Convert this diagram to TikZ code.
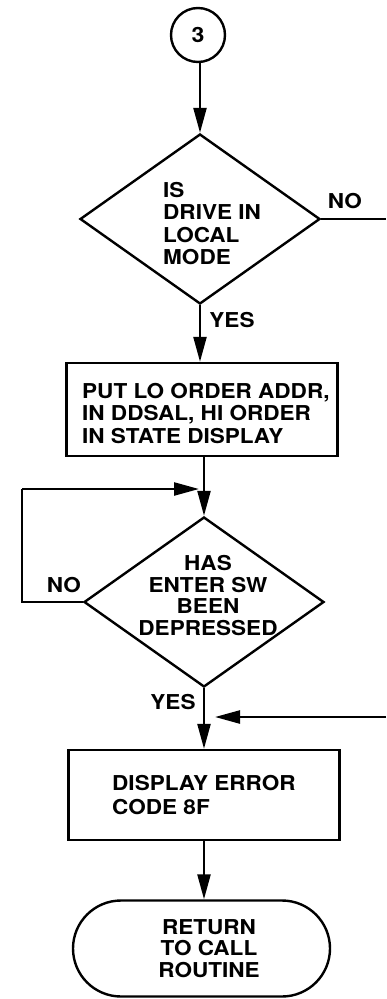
\documentclass[tikz,border=0pt]{standalone}
\usepackage{fontspec}
\setmainfont[FakeStretch=1.1]{TeX Gyre Heros}
\usetikzlibrary{shapes.geometric,arrows.meta}
\tikzset{
  flow/.style={line width=2.4pt, line join=miter},
  arr/.style={flow, -{Triangle[length=25pt,width=13pt]}},
  dia/.style={draw, flow, diamond, minimum width=240pt, minimum height=170pt, inner sep=0pt},
  boxn/.style={draw, flow, rectangle, inner sep=0pt},
  txt/.style={inner sep=0pt, align=left, font=\fontsize{20.5}{22.3}\selectfont\bfseries},
  ctxt/.style={inner sep=0pt, align=center, font=\fontsize{20.5}{21.7}\selectfont\bfseries},
  lbl/.style={inner sep=0pt, font=\fontsize{20.5}{22}\selectfont\bfseries}
}
\begin{document}
\begin{tikzpicture}[x=1pt,y=-1pt]
\useasboundingbox (0,0) rectangle (386,999);
% connector circle
\node[draw, flow, circle, minimum size=54pt, inner sep=0pt, font=\fontsize{21}{22}\selectfont\bfseries] (c3) at (198,35) {3};
% decision 1
\node[dia] (d1) at (200,219) {};
\node[txt, anchor=west] (d1t) at (163,223.5) {IS\\DRIVE IN\\LOCAL\\MODE};
\coordinate (noend) at (386,219);
\node[lbl] (no1) at (345,201) {NO};
\node[lbl] (yes1) at (232,320) {YES};
% box 1
\node[boxn, minimum width=271pt, minimum height=93pt] (b1) at (202,409.5) {};
\node[txt, anchor=west] (b1t) at (82,413.5) {PUT LO ORDER ADDR,\\IN DDSAL, HI ORDER\\IN STATE DISPLAY};
% decision 2
\node[dia] (d2) at (204,602) {};
\node[ctxt] (d2t) at (208,595.5) {HAS\\ENTER SW\\BEEN\\DEPRESSED};
\node[lbl] (no2) at (64,585) {NO};
\node[lbl] (yes2) at (173,702) {YES};
\coordinate (loopc) at (22,602);
\coordinate (loopt) at (22,489);
\coordinate (loopin) at (199,489);
\coordinate (rin) at (386,717);
\coordinate (rtip) at (215,717);
% box 2
\node[boxn, minimum width=271pt, minimum height=90pt] (b2) at (204,795) {};
\node[txt, anchor=west, font=\fontsize{20.5}{23.5}\selectfont\bfseries] (b2t) at (112,795) {DISPLAY ERROR\\CODE 8F};
% terminal
\node[draw, flow, rectangle, rounded corners=48pt, minimum width=257pt, minimum height=96pt, inner sep=0pt] (term) at (201.5,948.5) {};
\node[ctxt] (termt) at (209,948.5) {RETURN\\TO CALL\\ROUTINE};
% connectors
\draw[arr] (c3.south -| d1.north) -- (d1.north);
\draw[flow] (d1.east) -- (noend);
\draw[arr] (d1.south) -- (d1.south |- b1.north);
\draw[arr] (b1.south -| d2.north) -- (d2.north);
\draw[flow] (d2.west) -- (loopc) -- (loopt);
\draw[arr] (loopt) -- (loopin);
\draw[arr] (d2.south) -- (b2.north);
\draw[arr] (rin) -- (rtip);
\draw[arr] (b2.south) -- (b2.south |- term.north);
\end{tikzpicture}
\end{document}
